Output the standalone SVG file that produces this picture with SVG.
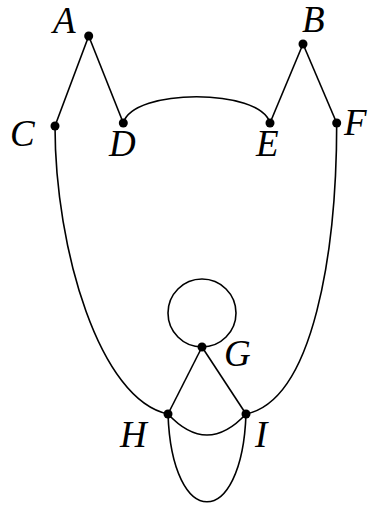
<svg xmlns="http://www.w3.org/2000/svg" width="368" height="506" viewBox="0 0 368 506">
<style>
.e{fill:none;stroke:#000;stroke-width:1.6}
.v{fill:#000}
.l{font-family:"Liberation Serif",serif;font-style:italic;font-size:37px;fill:#000}
</style>
<rect width="368" height="506" fill="#fff"/>
<g id="edges">
<path class="e" d="M88.7,36 L55,126"/>
<path class="e" d="M88.7,36 L123.3,123"/>
<path class="e" d="M303,44 L270,123"/>
<path class="e" d="M303,44 L336.7,123"/>
<path class="e" d="M123.3,123 C133,88 260,88 270,123"/>
<path class="e" d="M55,126 C55,250 100,400 168,414"/>
<path class="e" d="M336.7,123 C336.7,250 314,400 246,414"/>
<path class="e" d="M202,347 L168,414"/>
<path class="e" d="M202,347 L246,414"/>
<circle class="e" cx="202" cy="313" r="34"/>
<path class="e" d="M168,414 Q207,456 246,414"/>
<path class="e" d="M168,414 C172,531 242,531 246,414"/>
</g>
<g id="A"><circle class="v" cx="88.7" cy="36" r="4.5"/><text class="l" x="53" y="33">A</text></g>
<g id="B"><circle class="v" cx="303" cy="44" r="4.5"/><text class="l" x="302" y="32">B</text></g>
<g id="C"><circle class="v" cx="55" cy="126" r="4.5"/><text class="l" x="10" y="146">C</text></g>
<g id="D"><circle class="v" cx="123.3" cy="123" r="4.5"/><text class="l" x="109" y="156">D</text></g>
<g id="E"><circle class="v" cx="270" cy="123" r="4.5"/><text class="l" x="256" y="156">E</text></g>
<g id="F"><circle class="v" cx="336.7" cy="123" r="4.5"/><text class="l" x="344" y="135">F</text></g>
<g id="G"><circle class="v" cx="202" cy="347" r="4.5"/><text class="l" x="224" y="366">G</text></g>
<g id="H"><circle class="v" cx="168" cy="414" r="4.5"/><text class="l" x="120" y="447">H</text></g>
<g id="I"><circle class="v" cx="246" cy="414" r="4.5"/><text class="l" x="255" y="447">I</text></g>
</svg>
